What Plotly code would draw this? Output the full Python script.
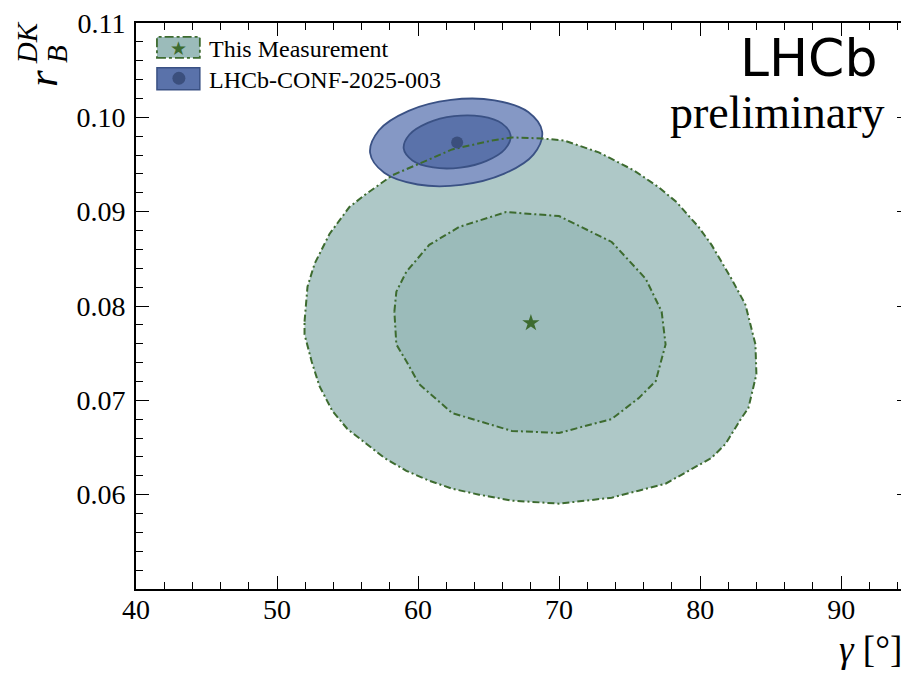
import plotly.graph_objects as go

# ---------------- data ----------------
# This Measurement: 2-sigma (outer) and 1-sigma (inner) contours
outer_gamma = [51.95, 52.16, 52.66, 53.72, 55.13, 56.20, 58.18, 59.94, 62.42, 65.25,
               66.66, 68.78, 70.34, 72.81, 75.29, 77.06, 78.33, 79.89, 80.81, 82.22,
               83.21, 83.92, 83.99, 83.42, 82.93, 81.80, 80.81, 79.18, 77.55, 75.64,
               73.73, 69.99, 66.66, 64.33, 62.42, 60.79, 59.17, 57.61, 56.34, 54.99,
               53.93, 53.01, 52.45, 51.95, 51.95]
outer_r = [0.07835, 0.08205, 0.08447, 0.08764, 0.09049, 0.09175, 0.09386, 0.09502, 0.09660, 0.09755,
           0.09787, 0.09776, 0.09755, 0.09629, 0.09439, 0.09259, 0.09101, 0.08838, 0.08648, 0.08289,
           0.08015, 0.07593, 0.07276, 0.06918, 0.06812, 0.06538, 0.06390, 0.06253, 0.06116, 0.06042,
           0.05968, 0.05905, 0.05937, 0.06000, 0.06063, 0.06148, 0.06253, 0.06390, 0.06538, 0.06696,
           0.06886, 0.07150, 0.07414, 0.07698, 0.07835]

inner_gamma = [58.32, 58.46, 59.17, 60.79, 62.91, 66.24, 69.99, 73.73, 76.14, 77.27,
               77.55, 76.85, 75.64, 73.73, 69.99, 66.66, 62.42, 60.08, 59.17, 58.46, 58.32]
inner_r = [0.07941, 0.08152, 0.08363, 0.08648, 0.08838, 0.08996, 0.08954, 0.08679, 0.08289, 0.07941,
           0.07593, 0.07203, 0.07023, 0.06802, 0.06654, 0.06675, 0.06865, 0.07171, 0.07414, 0.07593, 0.07941]

best_gamma = [68.0]
best_r = [0.0782]

# LHCb-CONF-2025-003: 2-sigma and 1-sigma ellipses
conf_outer_gamma = [68.80, 67.81, 65.43, 62.33, 59.33, 57.23, 56.60, 57.60, 59.97, 63.07, 66.07, 68.18, 68.80]
conf_outer_r = [0.09846, 0.10056, 0.10180, 0.10185, 0.10069, 0.09863, 0.09622, 0.09412, 0.09288, 0.09284,
                0.09400, 0.09605, 0.09846]
conf_inner_gamma = [66.56, 65.94, 64.48, 62.55, 60.69, 59.38, 58.98, 59.60, 61.07, 63.00, 64.86, 66.17, 66.56]
conf_inner_r = [0.09809, 0.09936, 0.10009, 0.10012, 0.09941, 0.09815, 0.09670, 0.09543, 0.09469, 0.09467,
                0.09538, 0.09664, 0.09809]
conf_gamma = [62.77]
conf_r = [0.09734]

x_ticks = [40, 50, 60, 70, 80, 90]
y_ticks = [0.06, 0.07, 0.08, 0.09, 0.10, 0.11]
legend_labels = ["This Measurement", "LHCb-CONF-2025-003"]

# ---------------- style ----------------
GREEN_OUT = "#aec8c7"
GREEN_IN = "#9bbbba"
GREEN_LINE = "#3d6b2f"
BLUE_OUT = "#8598c5"
BLUE_IN = "#5a72aa"
BLUE_LINE = "#3a5184"
BLUE_DOT = "#3b4f7d"
SERIF = "Liberation Serif"
DASHDOT = "7px,3px,2px,3px"

fig = go.Figure()

# green fills
fig.add_trace(go.Scatter(x=outer_gamma, y=outer_r, mode="lines", fill="toself",
                         fillcolor=GREEN_OUT, line=dict(width=0), showlegend=False, hoverinfo="skip"))
fig.add_trace(go.Scatter(x=inner_gamma, y=inner_r, mode="lines", fill="toself",
                         fillcolor=GREEN_IN, line=dict(width=0), showlegend=False, hoverinfo="skip"))
# blue ellipses
fig.add_trace(go.Scatter(x=conf_outer_gamma, y=conf_outer_r, mode="lines", fill="toself",
                         fillcolor=BLUE_OUT, line=dict(color=BLUE_LINE, width=1.8, shape="spline"),
                         showlegend=False, hoverinfo="skip"))
fig.add_trace(go.Scatter(x=conf_inner_gamma, y=conf_inner_r, mode="lines", fill="toself",
                         fillcolor=BLUE_IN, line=dict(color=BLUE_LINE, width=1.8, shape="spline"),
                         showlegend=False, hoverinfo="skip"))
# green contour lines on top
fig.add_trace(go.Scatter(x=outer_gamma, y=outer_r, mode="lines",
                         line=dict(color=GREEN_LINE, width=2, dash=DASHDOT), showlegend=False))
fig.add_trace(go.Scatter(x=inner_gamma, y=inner_r, mode="lines",
                         line=dict(color=GREEN_LINE, width=2, dash=DASHDOT), showlegend=False))
# central values
fig.add_trace(go.Scatter(x=best_gamma, y=best_r, mode="markers",
                         marker=dict(symbol="star", size=13, color=GREEN_LINE, line=dict(width=0)),
                         showlegend=False))
fig.add_trace(go.Scatter(x=conf_gamma, y=conf_r, mode="markers",
                         marker=dict(symbol="circle", size=12, color=BLUE_DOT, line=dict(width=0)),
                         showlegend=False))

axis_common = dict(showline=True, linecolor="black", linewidth=1.8, mirror="allticks",
                   ticks="inside", ticklen=13, tickwidth=1.4, tickcolor="black",
                   showgrid=False, zeroline=False, ticklabeloverflow="allow",
                   tickfont=dict(family=SERIF, size=28, color="black"))

fig.update_xaxes(range=[40, 94.88], tickmode="array", tickvals=x_ticks,
                 ticktext=[str(v) for v in x_ticks], ticklabelstandoff=-6,
                 minor=dict(ticks="inside", ticklen=7, tickwidth=1.2, tickcolor="black",
                            tick0=40, dtick=2, showgrid=False),
                 **axis_common)
fig.update_yaxes(range=[0.05, 0.11], tickmode="array", tickvals=y_ticks,
                 ticktext=["%.2f" % v for v in y_ticks], ticklabelstandoff=3,
                 minor=dict(ticks="inside", ticklen=7, tickwidth=1.2, tickcolor="black",
                            tick0=0.05, dtick=0.002, showgrid=False),
                 **axis_common)

# ---- pixel helpers for layout placement (plot area on page: x 136..912, y 20..589) ----
PLOT_W = 776.0
PLOT_H = 569.0

def px(xp):
    return (xp - 136) / PLOT_W

def py(yp):
    return (589 - yp) / PLOT_H

shapes = [
    # legend patch 1
    dict(type="rect", xref="paper", yref="paper", x0=px(157), x1=px(200), y0=py(55), y1=py(34),
         fillcolor=GREEN_IN, line=dict(color=GREEN_LINE, width=1.8, dash="dashdot")),
    # legend patch 2
    dict(type="rect", xref="paper", yref="paper", x0=px(157), x1=px(200), y0=py(87), y1=py(65),
         fillcolor=BLUE_IN, line=dict(color=BLUE_LINE, width=1.5)),
    dict(type="circle", xref="paper", yref="paper", x0=px(172.5), x1=px(185.5), y0=py(82), y1=py(69),
         fillcolor=BLUE_DOT, line=dict(width=0)),
]

annotations = [
    dict(text="★", xref="paper", yref="paper", x=px(179), y=py(45), showarrow=False,
         font=dict(family="DejaVu Sans", size=19, color=GREEN_LINE), xanchor="center", yanchor="middle"),
    dict(text=legend_labels[0], xref="paper", yref="paper", x=px(207), y=py(46), showarrow=False,
         font=dict(family=SERIF, size=24, color="black"), xanchor="left", yanchor="middle"),
    dict(text=legend_labels[1], xref="paper", yref="paper", x=px(207), y=py(77), showarrow=False,
         font=dict(family=SERIF, size=24, color="black"), xanchor="left", yanchor="middle"),
    # LHCb label
    dict(text="LHCb", xref="paper", yref="paper", x=px(881), y=py(55), showarrow=False,
         font=dict(family="DejaVu Sans", size=52, color="black"), xanchor="right", yanchor="middle"),
    dict(text="preliminary", xref="paper", yref="paper", x=px(889), y=py(110), showarrow=False,
         font=dict(family=SERIF, size=46, color="black"), xanchor="right", yanchor="middle"),
    # x axis title
    dict(text="<i>γ</i> [°]", xref="paper", yref="paper", x=px(906), y=py(650), showarrow=False,
         font=dict(family=SERIF, size=37, color="black"), xanchor="right", yanchor="middle"),
    # y axis title r_B^{DK} (stacked scripts)
    dict(text="<i>r</i>", xref="paper", yref="paper", x=px(42), y=py(76), showarrow=False,
         textangle=-90, font=dict(family=SERIF, size=43, color="black"),
         xanchor="center", yanchor="middle"),
    dict(text="<i>DK</i>", xref="paper", yref="paper", x=px(27), y=py(40), showarrow=False,
         textangle=-90, font=dict(family=SERIF, size=29, color="black"),
         xanchor="center", yanchor="middle"),
    dict(text="<i>B</i>", xref="paper", yref="paper", x=px(57), y=py(51), showarrow=False,
         textangle=-90, font=dict(family=SERIF, size=29, color="black"),
         xanchor="center", yanchor="middle"),
]

# The page body has an 8px default margin: size the figure so the plot area
# lands at x 136..912 (right spine just past the window, as in the reference),
# y 20..589 of the window, without making the page taller than the window.
fig.update_layout(width=904, height=662,
                  margin=dict(l=128, r=0, t=12, b=81, pad=0),
                  plot_bgcolor="white", paper_bgcolor="white",
                  showlegend=False, shapes=shapes, annotations=annotations)

fig.write_html("out.html")
